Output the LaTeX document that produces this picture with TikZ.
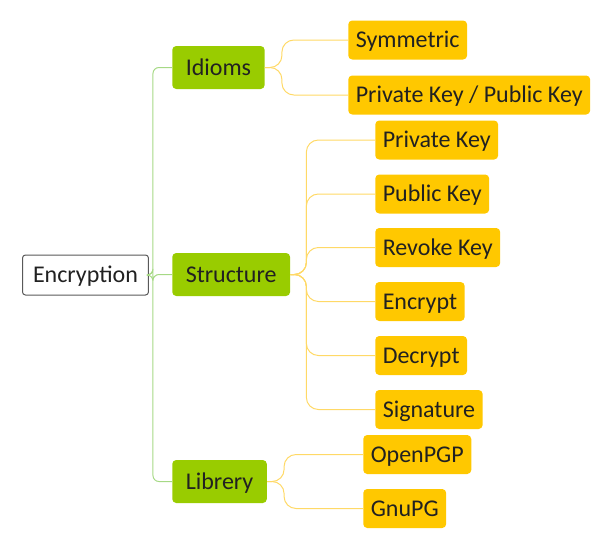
\documentclass[tikz,border=0pt]{standalone}
\usepackage{fontspec}
\setmainfont{Carlito}
\newlength{\du}
\setlength{\du}{0.75pt}
\definecolor{topicgreen}{rgb}{0.600000, 0.800000, 0.000000}
\definecolor{subyellow}{rgb}{1.000000, 0.784000, 0.000000}
\definecolor{greenline}{rgb}{0.650000, 0.850000, 0.520000}
\definecolor{yellowline}{rgb}{1.000000, 0.850000, 0.400000}
\definecolor{textdark}{rgb}{0.130000, 0.130000, 0.130000}
\tikzset{
  mapnode/.style={anchor=west, text=textdark, font=\fontsize{18}{22}\selectfont, inner ysep=0pt, text height=13pt, text depth=1.4pt},
  rootbox/.style={mapnode, draw=black!65, line width=1\du, fill=white, rounded corners=3\du, minimum height=40\du, inner xsep=10.5\du},
  topicbox/.style={mapnode, fill=topicgreen, rounded corners=4\du, minimum height=43\du, inner xsep=13.5\du},
  subbox/.style={mapnode, fill=subyellow, rounded corners=4\du, minimum height=39\du, inner xsep=7.5\du},
  greenconn/.style={draw=greenline, line width=1\du, rounded corners=6\du},
  yellowconn/.style={draw=yellowline, line width=1\du, rounded corners=12\du}
}
\begin{document}
\begin{tikzpicture}[x=\du, y=-\du]
\useasboundingbox (0,0) rectangle (609,550);
% root and main topics
\node[rootbox] (enc) at (22,275) {Encryption};
\node[topicbox] (idioms) at (172,67.5) {Idioms};
\node[topicbox] (struct) at (172,274.5) {Structure};
\node[topicbox] (libr) at (172,481.5) {Librery};
% subtopics
\node[subbox] (sym) at (348,40) {Symmetric};
\node[subbox] (pkpk) at (348,95) {Private Key / Public Key};
\node[subbox] (privk) at (375,140) {Private Key};
\node[subbox] (pubk) at (375,194) {Public Key};
\node[subbox] (revk) at (375,247.5) {Revoke Key};
\node[subbox] (encr) at (375,301.5) {Encrypt};
\node[subbox] (decr) at (375,355.5) {Decrypt};
\node[subbox] (sig) at (375,409.5) {Signature};
\node[subbox] (opgp) at (363,454.5) {OpenPGP};
\node[subbox] (gpg) at (363,508.5) {GnuPG};
% connectors
\foreach \t in {idioms,struct,libr}
  \draw[greenconn] (enc.east) -- ++(4,0) |- (\t.west);
\foreach \s in {sym,pkpk}
  \draw[yellowconn] (idioms.east) -- ++(17,0) |- (\s.west);
\foreach \s in {privk,pubk,revk,encr,decr,sig}
  \draw[yellowconn] (struct.east) -- ++(16,0) |- (\s.west);
\foreach \s in {opgp,gpg}
  \draw[yellowconn] (libr.east) -- ++(17,0) |- (\s.west);
\end{tikzpicture}
\end{document}
